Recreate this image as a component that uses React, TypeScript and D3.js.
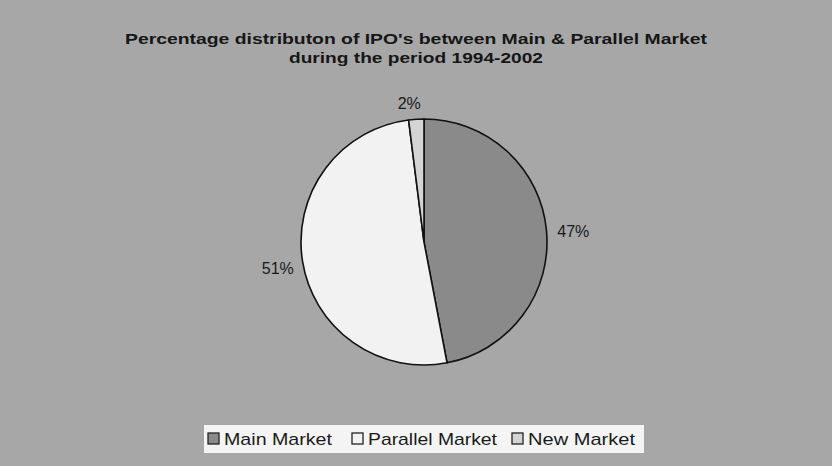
import React, { useEffect, useRef } from 'react';
import * as d3 from 'd3';

const categories = ['Main Market', 'Parallel Market', 'New Market'];
const shares = [47, 51, 2];
const sliceColors = ['#8a8a8a', '#f2f2f2', '#d4d4d4'];
const titleLines = ["Percentage distributon of IPO's between Main & Parallel Market", 'during the period 1994-2002'];

const W = 832;
const H = 466;
const FONT = 'Liberation Sans, Arial, sans-serif';

const App = () => {
  const ref = useRef<SVGSVGElement>(null);

  useEffect(() => {
    const svg = d3.select(ref.current);
    svg.selectAll('*').remove();

    svg.append('rect').attr('width', W).attr('height', H).attr('fill', '#a7a7a7');

    // title, stretched a bit like the scanned original
    const titleWidths = [582, 254];
    svg.append('g')
      .selectAll('text')
      .data(titleLines)
      .enter()
      .append('text')
      .attr('x', 416)
      .attr('y', (d, i) => 44 + i * 19)
      .attr('text-anchor', 'middle')
      .attr('font-family', FONT)
      .attr('font-weight', 'bold')
      .attr('font-size', 15)
      .attr('textLength', (d, i) => titleWidths[i])
      .attr('lengthAdjust', 'spacingAndGlyphs')
      .attr('fill', '#161616')
      .text(d => d);

    // pie
    const cx = 424, cy = 242, r = 123;
    const data = categories.map((c, i) => ({ name: c, value: shares[i] }));
    const pie = d3.pie<any>().value(d => d.value).sort(null);
    const arc = d3.arc<any>().innerRadius(0).outerRadius(r);
    const arcs = pie(data);

    const g = svg.append('g').attr('transform', `translate(${cx},${cy})`);
    g.selectAll('path')
      .data(arcs)
      .enter()
      .append('path')
      .attr('d', arc)
      .attr('fill', (d, i) => sliceColors[i])
      .attr('stroke', '#111')
      .attr('stroke-width', 1.6);

    // labels outside the slices
    const labelR = [150, 148, 139];
    const labelDx = [0, 0, -6];
    const labelDy = [9, 9, 6];
    g.selectAll('text')
      .data(arcs)
      .enter()
      .append('text')
      .attr('transform', (d, i) => {
        const la = d3.arc<any>().innerRadius(labelR[i]).outerRadius(labelR[i]);
        const [x, y] = la.centroid(d);
        return `translate(${x + labelDx[i]},${y + labelDy[i]})`;
      })
      .attr('text-anchor', 'middle')
      .attr('font-family', FONT)
      .attr('font-size', 16)
      .attr('fill', '#1a1a1a')
      .text(d => `${d.data.value}%`);

    // legend
    const legend = svg.append('g');
    legend.append('rect')
      .attr('x', 204).attr('y', 425)
      .attr('width', 440).attr('height', 28)
      .attr('fill', '#f4f4f4');
    const itemX = [208, 352, 512];
    const textW = [108, 129, 107];
    categories.forEach((c, i) => {
      legend.append('rect')
        .attr('x', itemX[i]).attr('y', 433)
        .attr('width', 11).attr('height', 11)
        .attr('fill', sliceColors[i])
        .attr('stroke', '#222')
        .attr('stroke-width', 1.3);
      legend.append('text')
        .attr('x', itemX[i] + 16).attr('y', 445)
        .attr('font-family', FONT)
        .attr('font-size', 17)
        .attr('textLength', textW[i])
        .attr('lengthAdjust', 'spacingAndGlyphs')
        .attr('fill', '#1a1a1a')
        .text(c);
    });
  }, []);

  return (
    <div style={{ position: 'absolute', left: 0, top: 0 }}>
      <svg ref={ref} width={W} height={H} style={{ display: 'block' }} />
    </div>
  );
};

export default App;
